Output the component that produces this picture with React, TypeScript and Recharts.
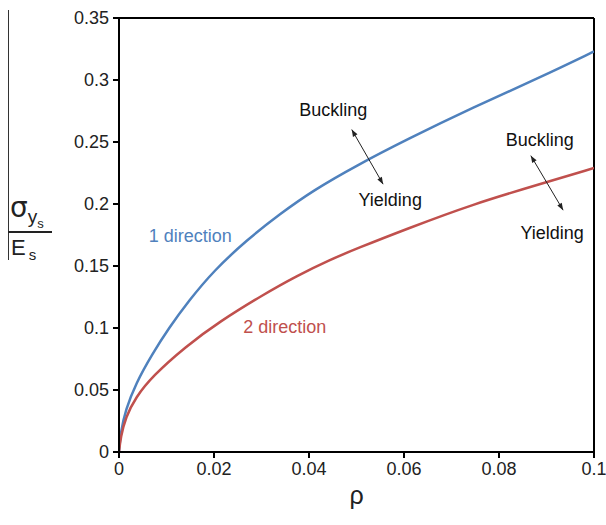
import React from 'react';
import {
  LineChart,
  Line,
  XAxis,
  YAxis,
  ReferenceLine,
  ReferenceDot,
} from 'recharts';

// values
const rhoBlue = [0, 0.00035, 0.0014, 0.0035, 0.007, 0.0105, 0.0147, 0.0199, 0.0269, 0.0339, 0.0409, 0.05, 0.0606, 0.0746, 0.0886, 0.1];
const sigmaBlue = [0, 0.016, 0.034, 0.055, 0.079, 0.1, 0.122, 0.146, 0.171, 0.192, 0.211, 0.231, 0.252, 0.278, 0.302, 0.323];
const rhoRed = [0, 0.00035, 0.0014, 0.0035, 0.007, 0.014, 0.0211, 0.0304, 0.0374, 0.0444, 0.05, 0.0606, 0.0746, 0.0886, 0.1];
const sigmaRed = [0, 0.012, 0.028, 0.044, 0.061, 0.085, 0.105, 0.127, 0.142, 0.155, 0.164, 0.18, 0.2, 0.216, 0.229];

const xTicks = [0, 0.02, 0.04, 0.06, 0.08, 0.1];
const yTicks = [0, 0.05, 0.1, 0.15, 0.2, 0.25, 0.3, 0.35];

// arrows: [x1, y1, x2, y2] in data units
const arrows = [
  [0.0490, 0.260, 0.0556, 0.216],
  [0.0867, 0.239, 0.0935, 0.195],
];
// annotation labels
const notes = [
  { x: 0.0451, y: 0.276, text: 'Buckling', color: '#111' },
  { x: 0.0571, y: 0.203, text: 'Yielding', color: '#111' },
  { x: 0.0886, y: 0.252, text: 'Buckling', color: '#111' },
  { x: 0.0912, y: 0.177, text: 'Yielding', color: '#111' },
  { x: 0.0150, y: 0.174, text: '1 direction', color: '#4F81BD' },
  { x: 0.0349, y: 0.101, text: '2 direction', color: '#C0504D' },
];

const blueData = rhoBlue.map((x, i) => ({ x, y: sigmaBlue[i] }));
const redData = rhoRed.map((x, i) => ({ x, y: sigmaRed[i] }));

const FONT = '"Liberation Sans", Arial, sans-serif';
const fmt = (v: number) => String(Math.round(v * 1000) / 1000);

function head(x: number, y: number, dx: number, dy: number) {
  const len = Math.hypot(dx, dy);
  const ux = dx / len;
  const uy = dy / len;
  const L = 7;
  const W = 2.6;
  const bx = x - ux * L;
  const by = y - uy * L;
  return `${x},${y} ${bx - uy * W},${by + ux * W} ${bx + uy * W},${by - ux * W}`;
}

const ArrowShape = (props: any) => {
  const { x1, y1, x2, y2 } = props;
  return (
    <g>
      <line x1={x1} y1={y1} x2={x2} y2={y2} stroke="#222" strokeWidth={1} />
      <polygon points={head(x1, y1, x1 - x2, y1 - y2)} fill="#222" />
      <polygon points={head(x2, y2, x2 - x1, y2 - y1)} fill="#222" />
    </g>
  );
};

export default function App() {
  return (
    <div style={{ position: 'absolute', left: 0, top: 0, width: 606, height: 525, background: '#fff', fontFamily: FONT }}>
      <LineChart
        width={606}
        height={525}
        margin={{ top: 18, right: 12, bottom: 43, left: 0 }}
      >
        <XAxis
          type="number"
          dataKey="x"
          domain={[0, 0.1]}
          ticks={xTicks}
          tickFormatter={fmt}
          allowDataOverflow
          height={30}
          stroke="#000"
          strokeWidth={2}
          tickSize={6}
          tick={{ fontSize: 18, fill: '#222', fontFamily: FONT, dy: 2 }}
          label={{ value: 'ρ', position: 'bottom', offset: 4, style: { fontSize: 25, fill: '#222', fontFamily: FONT } }}
        />
        <YAxis
          type="number"
          dataKey="y"
          domain={[0, 0.35]}
          ticks={yTicks}
          tickFormatter={fmt}
          allowDataOverflow
          width={119}
          stroke="#000"
          strokeWidth={2}
          tickSize={6}
          tick={{ fontSize: 18, fill: '#222', fontFamily: FONT, dx: -2 }}
        />
        <ReferenceLine y={0.35} stroke="#000" strokeWidth={2} />
        <ReferenceLine x={0.1} stroke="#000" strokeWidth={2} />
        <Line
          data={blueData}
          dataKey="y"
          type="basis"
          stroke="#4F81BD"
          strokeWidth={2.5}
          dot={false}
          isAnimationActive={false}
        />
        <Line
          data={redData}
          dataKey="y"
          type="basis"
          stroke="#C0504D"
          strokeWidth={2.5}
          dot={false}
          isAnimationActive={false}
        />
        {arrows.map((a, i) => (
          <ReferenceLine
            key={'a' + i}
            segment={[{ x: a[0], y: a[1] }, { x: a[2], y: a[3] }]}
            shape={ArrowShape}
          />
        ))}
        {notes.map((n, i) => (
          <ReferenceDot
            key={'n' + i}
            x={n.x}
            y={n.y}
            r={0}
            shape={(p: any) => (
              <text
                x={p.cx}
                y={p.cy}
                textAnchor="middle"
                dominantBaseline="central"
                fontSize={18}
                fontFamily={FONT}
                fill={n.color}
              >
                {n.text}
              </text>
            )}
          />
        ))}
      </LineChart>
      {/* y-axis label: sigma_ys / E_s */}
      <div style={{ position: 'absolute', left: 8, top: 10, width: 1, height: 250, background: '#333' }} />
      <div style={{ position: 'absolute', left: 8, top: 231, width: 44, height: 2, background: '#222' }} />
      <div style={{ position: 'absolute', left: 10, top: 194, color: '#222', whiteSpace: 'nowrap', lineHeight: 1 }}>
        <span style={{ fontSize: 28, fontFamily: '"DejaVu Sans", sans-serif' }}>σ</span>
        <span style={{ fontSize: 19, position: 'relative', top: 6 }}>y</span>
        <span style={{ fontSize: 13, position: 'relative', top: 11 }}>s</span>
      </div>
      <div style={{ position: 'absolute', left: 11, top: 237, color: '#222', whiteSpace: 'nowrap', lineHeight: 1 }}>
        <span style={{ fontSize: 22 }}>E</span>
        <span style={{ fontSize: 15, position: 'relative', top: 5, marginLeft: 3 }}>s</span>
      </div>
    </div>
  );
}
